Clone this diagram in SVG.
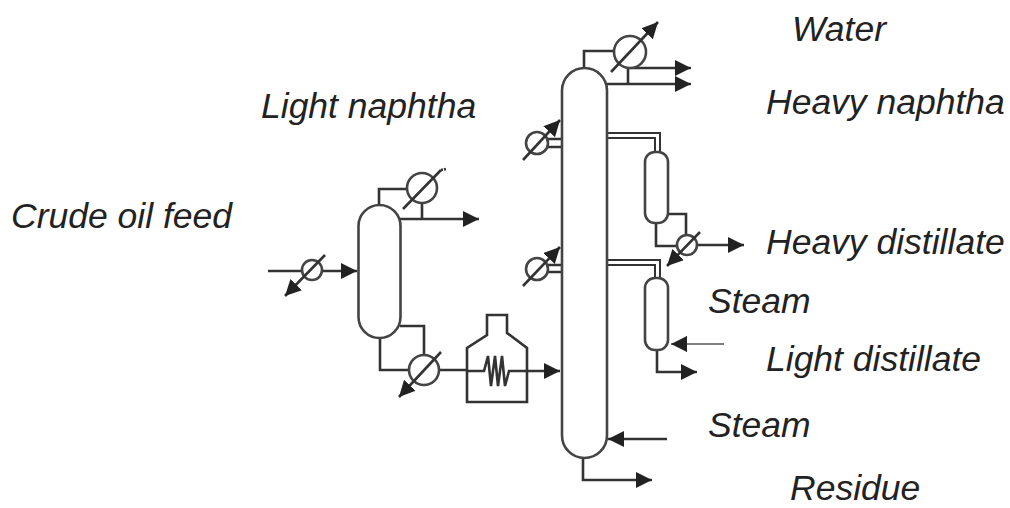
<svg xmlns="http://www.w3.org/2000/svg" width="1010" height="508" viewBox="0 0 1010 508">
<defs>
<marker id="a" markerUnits="userSpaceOnUse" markerWidth="18" markerHeight="18" refX="16" refY="8" orient="auto"><path d="M0 0L16 8L0 16Z" fill="#222"/></marker>
</defs>
<style>
.l{fill:none;stroke:#333;stroke-width:2.6}
.t{fill:none;stroke:#333;stroke-width:2}
.h{fill:none;stroke:#555;stroke-width:1.5}
.v{fill:#fff;stroke:#444;stroke-width:2.6}
.a{marker-end:url(#a)}
text{font-family:"Liberation Sans",Arial,sans-serif;font-style:italic;font-size:35.500px;fill:#222}
</style>
<rect width="1010" height="508" fill="#fff"/>
<g id="connectors">
<path class="l a" d="M268 271H357"/>
<path class="l a" d="M400 219H479"/>
<path class="l" d="M379 205V189H408M422 203V219"/>
<path class="l" d="M380 338V370H410M400 326H424V356"/>
<path class="l a" d="M438 370H467M527 371H560"/>
<path class="l" d="M467 371H484L488 356L491 386L495 356L498 386L502 356L505 386L509 371H527"/>
<path class="l" d="M584 68V51H615"/>
<path class="l a" d="M630 68H691"/>
<path class="l a" d="M606 84H691"/>
<path class="l" d="M628 66V84"/>
<path class="l" d="M548 139H562M548 147H562M548 265H562M548 272H562"/>
<path class="t" d="M607 133H660V152M607 138H655V152M607 260H660V278M607 265H655V278"/>
<path class="l" d="M668 214H686V235M656 223V246H677"/>
<path class="l a" d="M697 245H744"/>
<path class="h a" d="M724 344H671"/>
<path class="l a" d="M657 350V372H697"/>
<path class="l a" d="M667 439H608"/>
<path class="l a" d="M583 458V480H652"/>
</g>
<g id="column-1"><rect class="v" x="358.500" y="205" width="42" height="133" rx="21"/></g>
<g id="column-2"><rect class="v" x="562" y="68" width="45" height="390" rx="22.500"/></g>
<g id="stripper-1"><rect class="v" x="645" y="152" width="23" height="71" rx="10"/></g>
<g id="stripper-2"><rect class="v" x="645" y="278" width="23" height="72" rx="10"/></g>
<g id="furnace"><path class="l" d="M467 371V348L487 335V315H507V333L527 348V402H467Z"/></g>
<g id="hx-feed"><circle class="v" cx="312" cy="270" r="10"/><path class="l a" d="M325 255L285 296"/></g>
<g id="hx-top-1"><circle class="v" cx="422" cy="188" r="15"/><path class="l" d="M403 209L441 170"/><path class="l" d="M441 170L446 169" stroke-dasharray="2 1"/></g>
<g id="hx-bottom"><circle class="v" cx="424" cy="370" r="15"/><path class="l a" d="M441 352L399 397"/></g>
<g id="hx-top-2"><circle class="v" cx="630" cy="52" r="16"/><path class="l a" d="M611 72L658 22"/></g>
<g id="hx-side-1"><circle class="v" cx="537" cy="143" r="11"/><path class="l a" d="M523 160L560 120"/></g>
<g id="hx-side-2"><circle class="v" cx="537" cy="269" r="11"/><path class="l a" d="M523 286L560 247"/></g>
<g id="hx-side-3"><circle class="v" cx="687" cy="245" r="10"/><path class="l a" d="M700 232L667 266"/></g>
<g id="labels">
<text x="792" y="41">Water</text>
<text x="261" y="118">Light naphtha</text>
<text x="766" y="114">Heavy naphtha</text>
<text x="11" y="228">Crude oil feed</text>
<text x="766" y="254">Heavy distillate</text>
<text x="708" y="313">Steam</text>
<text x="766" y="371">Light distillate</text>
<text x="708" y="437">Steam</text>
<text x="790" y="500">Residue</text>
</g>
</svg>
